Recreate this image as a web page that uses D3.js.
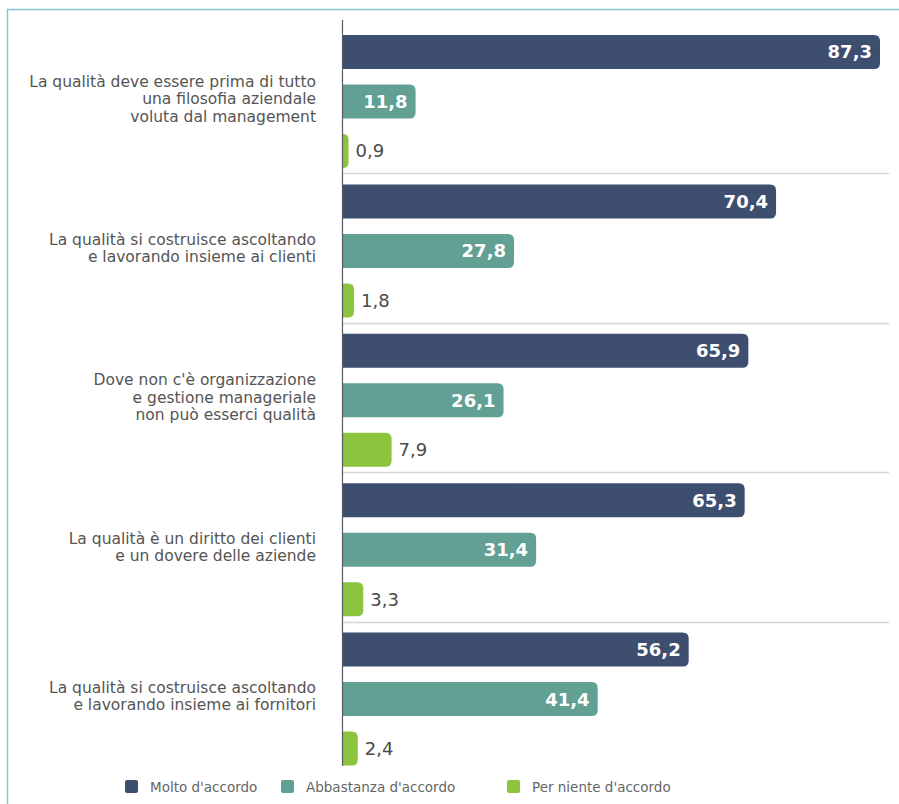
<!DOCTYPE html>
<html>
<head>
<meta charset="utf-8">
<script src="https://cdn.jsdelivr.net/npm/d3@7"></script>
<style>
  html, body { margin: 0; padding: 0; background: #fff; }
  svg { display: block; font-family: "DejaVu Sans", "Open Sans", sans-serif; }
</style>
</head>
<body>
<svg id="chart" width="899" height="804"></svg>
<script>
// Statements (each is split over lines for the left-hand labels)
const categories = [
  ["La qualità deve essere prima di tutto", "una filosofia aziendale", "voluta dal management"],
  ["La qualità si costruisce ascoltando", "e lavorando insieme ai clienti"],
  ["Dove non c'è organizzazione", "e gestione manageriale", "non può esserci qualità"],
  ["La qualità è un diritto dei clienti", "e un dovere delle aziende"],
  ["La qualità si costruisce ascoltando", "e lavorando insieme ai fornitori"]
];
const seriesNames = ["Molto d'accordo", "Abbastanza d'accordo", "Per niente d'accordo"];
const molto = [87.3, 70.4, 65.9, 65.3, 56.2];
const abbastanza = [11.8, 27.8, 26.1, 31.4, 41.4];
const perNiente = [0.9, 1.8, 7.9, 3.3, 2.4];
const colors = ["#3d4e6f", "#62a094", "#8cc43e"];

const values = [molto, abbastanza, perNiente];
const svg = d3.select("#chart");
const fmt = v => d3.format(".1f")(v).replace(".", ",");

// Frame lines along the top and left edge
svg.append("line").attr("x1", 7).attr("x2", 899).attr("y1", 9.5).attr("y2", 9.5)
  .attr("stroke", "#86c2cf").attr("stroke-width", 1.5);
svg.append("line").attr("x1", 7.5).attr("x2", 7.5).attr("y1", 9).attr("y2", 804)
  .attr("stroke", "#86c2cf").attr("stroke-width", 1.5);

const x0 = 343;
const x = d3.scaleLinear().domain([0, 87.3]).range([x0, 880]);
const y = d3.scaleBand().domain(d3.range(categories.length)).range([24, 771]);
const yi = d3.scaleBand().domain(d3.range(3)).range([11, 144]).paddingInner(15.5 / 49.5);

// Group separators
svg.append("g").selectAll("line").data(d3.range(1, categories.length)).join("line")
  .attr("x1", x0).attr("x2", 889)
  .attr("y1", i => Math.round(y(i)) + 0.5).attr("y2", i => Math.round(y(i)) + 0.5)
  .attr("stroke", "#d6d6d6").attr("stroke-width", 1.5);

// Bar with square left end and rounded right end
function barPath(x1, y1, w, h, r) {
  r = Math.min(r, w, h / 2);
  return `M${x1},${y1}H${x1 + w - r}Q${x1 + w},${y1} ${x1 + w},${y1 + r}` +
    `V${y1 + h - r}Q${x1 + w},${y1 + h} ${x1 + w - r},${y1 + h}H${x1}Z`;
}

const rows = [];
categories.forEach((c, ci) => values.forEach((arr, si) => rows.push({ ci, si, v: arr[ci] })));

const bars = svg.append("g");
bars.selectAll("path").data(rows).join("path")
  .attr("d", d => barPath(x0, y(d.ci) + yi(d.si), x(d.v) - x0, yi.bandwidth(), 6))
  .attr("fill", d => colors[d.si]);

// Value labels: inside for the wider bars, outside for the small ones
bars.selectAll("text").data(rows).join("text")
  .attr("y", d => y(d.ci) + yi(d.si) + yi.bandwidth() / 2)
  .attr("dy", "0.36em")
  .attr("x", d => d.si < 2 ? x(d.v) - 8 : x(d.v) + 7)
  .attr("text-anchor", d => d.si < 2 ? "end" : "start")
  .attr("fill", d => d.si < 2 ? "#ffffff" : "#4a4a4a")
  .attr("font-weight", d => d.si < 2 ? "bold" : "normal")
  .attr("font-size", 18)
  .text(d => fmt(d.v));

// Axis line
svg.append("line").attr("x1", x0 - 0.5).attr("x2", x0 - 0.5).attr("y1", 20).attr("y2", 766)
  .attr("stroke", "#555a66").attr("stroke-width", 1.2);

// Category labels
const lh = 17.5;
const labels = svg.append("g");
categories.forEach((lines, ci) => {
  const cy = y(ci) + y.bandwidth() / 2;
  const t = labels.append("text").attr("x", 316).attr("text-anchor", "end")
    .attr("font-size", 15.5).attr("fill", "#555");
  lines.forEach((ln, k) => {
    t.append("tspan").attr("x", 316)
      .attr("y", cy + (k - (lines.length - 1) / 2) * lh)
      .attr("dy", "0.35em").text(ln);
  });
});

// Legend
const legendX = [125, 281, 507];
const lg = svg.append("g");
seriesNames.forEach((n, i) => {
  lg.append("rect").attr("x", legendX[i]).attr("y", 780).attr("width", 13).attr("height", 13)
    .attr("rx", 2).attr("fill", colors[i]);
  lg.append("text").attr("x", legendX[i] + 25).attr("y", 787).attr("dy", "0.35em")
    .attr("font-size", 13.5).attr("fill", "#666").text(n);
});
</script>
</body>
</html>
